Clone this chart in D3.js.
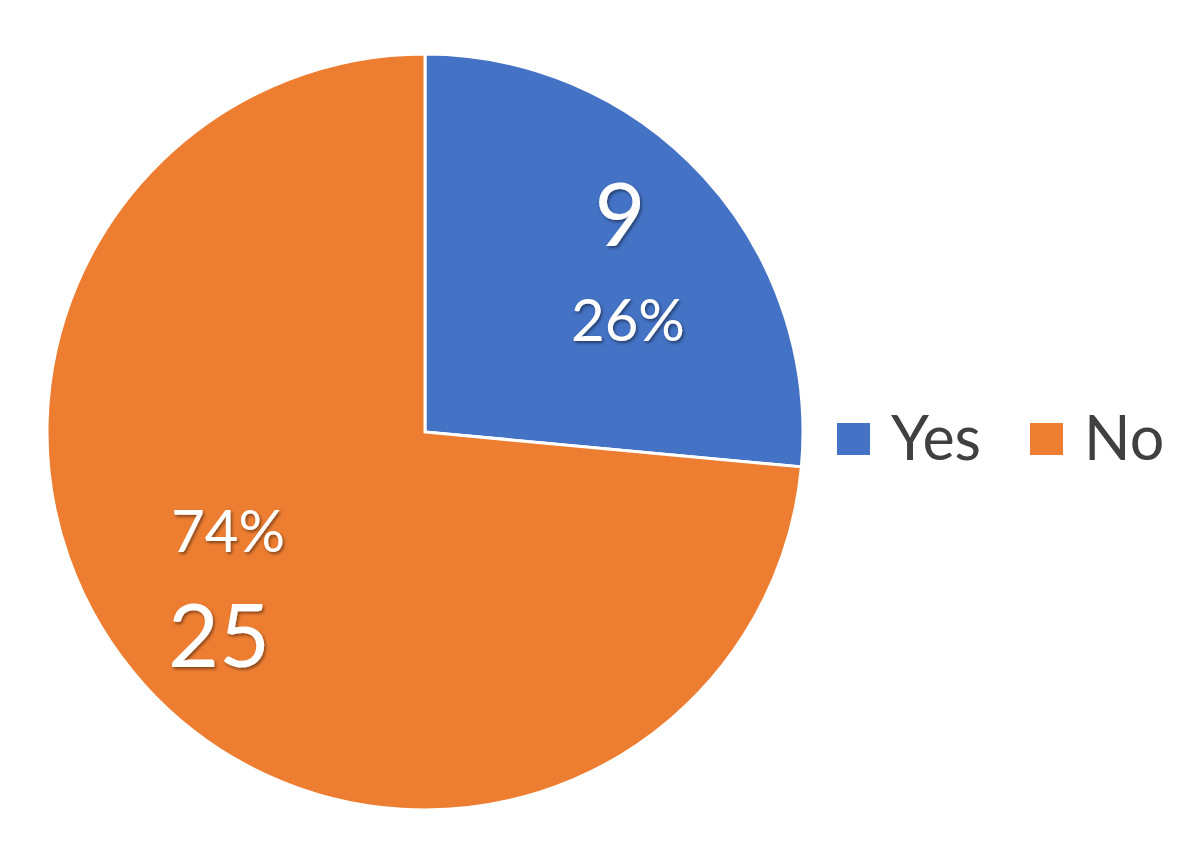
<!DOCTYPE html>
<html>
<head>
<meta charset="utf-8">
<script src="https://cdn.jsdelivr.net/npm/d3@7"></script>
<style>
  body { margin: 0; background: #fff; }
  svg { display: block; font-family: Lato, "Open Sans", sans-serif; }
</style>
</head>
<body>
<script>
const w = 1200
const h = 846

const categories = ['Yes', 'No']
const values = [9, 25]
const percents = ['26%', '74%']
const colors = ['#4472C4', '#ED7D31']

const cx = 425
const cy = 432
const r = 378

const svg = d3.select('body').append('svg')
    .attr('width', w)
    .attr('height', h)

// soft shadow under the white labels
const defs = svg.append('defs')
defs.append('filter')
    .attr('id', 'shadow')
    .attr('x', '-20%').attr('y', '-20%')
    .attr('width', '140%').attr('height', '140%')
  .append('feDropShadow')
    .attr('dx', 1.5).attr('dy', 2)
    .attr('stdDeviation', 1.5)
    .attr('flood-color', '#000')
    .attr('flood-opacity', 0.45)

const data = categories.map(function (c, i) {
    return {name: c, value: values[i], pct: percents[i], color: colors[i]}
})

const pie = d3.pie()
    .sort(null)
    .value(function (d) { return d.value })

const arc = d3.arc()
    .innerRadius(0)
    .outerRadius(r)

const labelArc = d3.arc()
    .innerRadius(253)
    .outerRadius(253)

const g = svg.append('g')
    .attr('transform', 'translate(' + cx + ',' + cy + ')')

const arcs = pie(data)

g.selectAll('path')
    .data(arcs)
    .enter()
    .append('path')
    .attr('d', arc)
    .style('fill', function (d) { return d.data.color })
    .style('stroke', '#fff')
    .style('stroke-width', 3)

// Yes: value above percent, No: percent above value
const labels = g.append('g').attr('filter', 'url(#shadow)')

arcs.forEach(function (d, i) {
    const c = labelArc.centroid(d)
    const lines = i === 0
        ? [{t: d.data.value, size: 88, dx: 8, dy: -16}, {t: d.data.pct, size: 58, dx: 16, dy: 79}]
        : [{t: d.data.pct, size: 58, dx: -10, dy: -50}, {t: d.data.value, size: 88, dx: -19, dy: 65}]
    lines.forEach(function (l) {
        labels.append('text')
            .attr('x', c[0] + l.dx)
            .attr('y', c[1] + l.dy)
            .attr('text-anchor', 'middle')
            .style('font-size', l.size + 'px')
            .style('fill', '#fff')
            .text(l.t)
    })
})

// legend
const legend = svg.append('g')
    .attr('transform', 'translate(837,423)')

const item = legend.selectAll('g')
    .data(data)
    .enter()
    .append('g')
    .attr('transform', function (d, i) { return 'translate(' + (i * 193) + ',0)' })

item.append('rect')
    .attr('width', 33)
    .attr('height', 32)
    .style('fill', function (d) { return d.color })

item.append('text')
    .attr('x', 54)
    .attr('y', 37)
    .style('font-size', '61px')
    .style('fill', '#404040')
    .text(function (d) { return d.name })
</script>
</body>
</html>
